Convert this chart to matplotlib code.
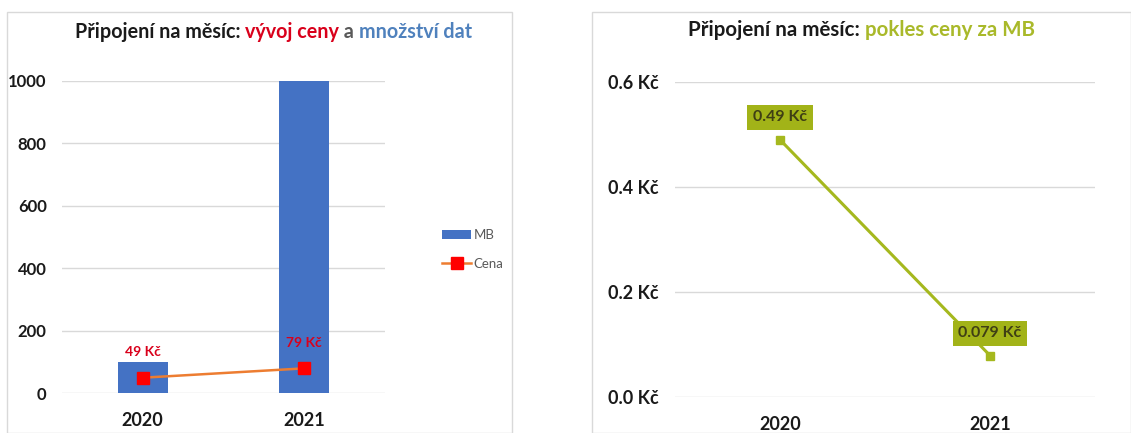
import matplotlib
matplotlib.use("Agg")
import matplotlib.pyplot as plt
from matplotlib.patches import Rectangle

plt.rcParams['font.family'] = ['Lato', 'DejaVu Sans']

years = ['2020', '2021']
mb_values = [100, 1000]
price_values = [49, 79]
price_labels = ['49 Kč', '79 Kč']
price_per_mb = [0.49, 0.079]
price_per_mb_labels = ['0.49 Kč', '0.079 Kč']
left_ticks = [0, 200, 400, 600, 800, 1000]
right_ticks = [0.0, 0.2, 0.4, 0.6]

BLUE = '#4472c4'
RED = '#d9001b'
ORANGE = '#ed7d31'
OLIVE = '#a5b81e'
BOX = '#a2b318'
BOX_TEXT = '#3f3f14'
GRID = '#d9d9d9'

W, H = 1131, 433
fig = plt.figure(figsize=(W / 100, H / 100), dpi=100, facecolor='white')

def px(x0, y0, x1, y1):
    # pixel box (top-left origin) -> figure fraction
    return [x0 / W, 1 - y1 / H, (x1 - x0) / W, (y1 - y0) / H]

# panel frames
for x0, x1 in [(7, 512), (592, 1131)]:
    fig.patches.append(Rectangle((x0 / W, 0), (x1 - x0) / W, 1 - 12 / H,
                                 transform=fig.transFigure, fill=False,
                                 edgecolor='#d9d9d9', linewidth=1))

def style(ax):
    for s in ax.spines.values():
        s.set_visible(False)
    ax.tick_params(length=0, labelsize=13, pad=12)
    ax.tick_params(axis='x', pad=14)
    ax.grid(axis='y', color=GRID, linewidth=1)
    ax.set_axisbelow(True)
    for lab in ax.get_xticklabels() + ax.get_yticklabels():
        lab.set_fontweight('bold')
        lab.set_color('#1a1a1a')

def title_parts(x0, y0, parts, size):
    x_cur = x0
    for part, col in parts:
        tt = fig.text(x_cur / W, 1 - y0 / H, part, fontsize=size, fontweight='bold',
                      va='center', ha='left', color=col)
        fig.canvas.draw()
        x_cur = tt.get_window_extent().x1

# left chart
ax1 = fig.add_axes(px(62, 81, 385, 393))
x = range(len(years))
bars = ax1.bar(x, mb_values, width=0.31, color=BLUE, label='MB', zorder=2)
line, = ax1.plot(x, price_values, color=ORANGE, linewidth=1.8, marker='s', markersize=8,
                 markerfacecolor='red', markeredgecolor='red', label='Cena', zorder=3)
for i, (v, t) in enumerate(zip(price_values, price_labels)):
    ax1.annotate(t, (i, v), xytext=(0, 14), textcoords='offset points',
                 ha='center', va='bottom', color=RED, fontsize=10, fontweight='bold')
ax1.set_xlim(-0.5, 1.5)
ax1.set_ylim(0, 1000)
ax1.set_xticks(list(x))
ax1.set_xticklabels(years)
ax1.set_yticks(left_ticks)
style(ax1)
ax1.tick_params(axis='y', labelsize=12, pad=11)
ax1.legend([bars, line], ['MB', 'Cena'], loc='center left', bbox_to_anchor=(1.14, 0.46),
           frameon=False, fontsize=9.5, handlelength=2.2, labelspacing=1.3,
           handletextpad=0.2, labelcolor='#595959')

title_parts(75, 32, [('Připojení na měsíc: ', '#1a1a1a'), ('vývoj ceny', RED),
                     (' a ', '#595959'), ('množství dat', '#4f81bd')], 14.2)

# right chart
ax2 = fig.add_axes(px(675, 82, 1095, 397))
ax2.plot(x, price_per_mb, color=OLIVE, linewidth=2.2, marker='s', markersize=6,
         markerfacecolor=OLIVE, markeredgecolor=OLIVE, zorder=3)
for i, (v, t) in enumerate(zip(price_per_mb, price_per_mb_labels)):
    ax2.annotate(t, (i, v), xytext=(0, 11), textcoords='offset points',
                 ha='center', va='bottom', color=BOX_TEXT, fontsize=11.5,
                 fontweight='bold', zorder=4,
                 bbox=dict(boxstyle='square,pad=0.35', facecolor=BOX, edgecolor='none'))
ax2.set_xlim(-0.5, 1.5)
ax2.set_ylim(0, 0.6)
ax2.set_xticks(list(x))
ax2.set_xticklabels(years)
ax2.set_yticks(right_ticks)
ax2.set_yticklabels([f'{v:.1f} Kč' for v in right_ticks])
style(ax2)

title_parts(688, 30, [('Připojení na měsíc: ', '#1a1a1a'),
                      ('pokles ceny za MB', '#a9b92a')], 14.8)

fig.savefig('out.png', dpi=100, facecolor='white')
